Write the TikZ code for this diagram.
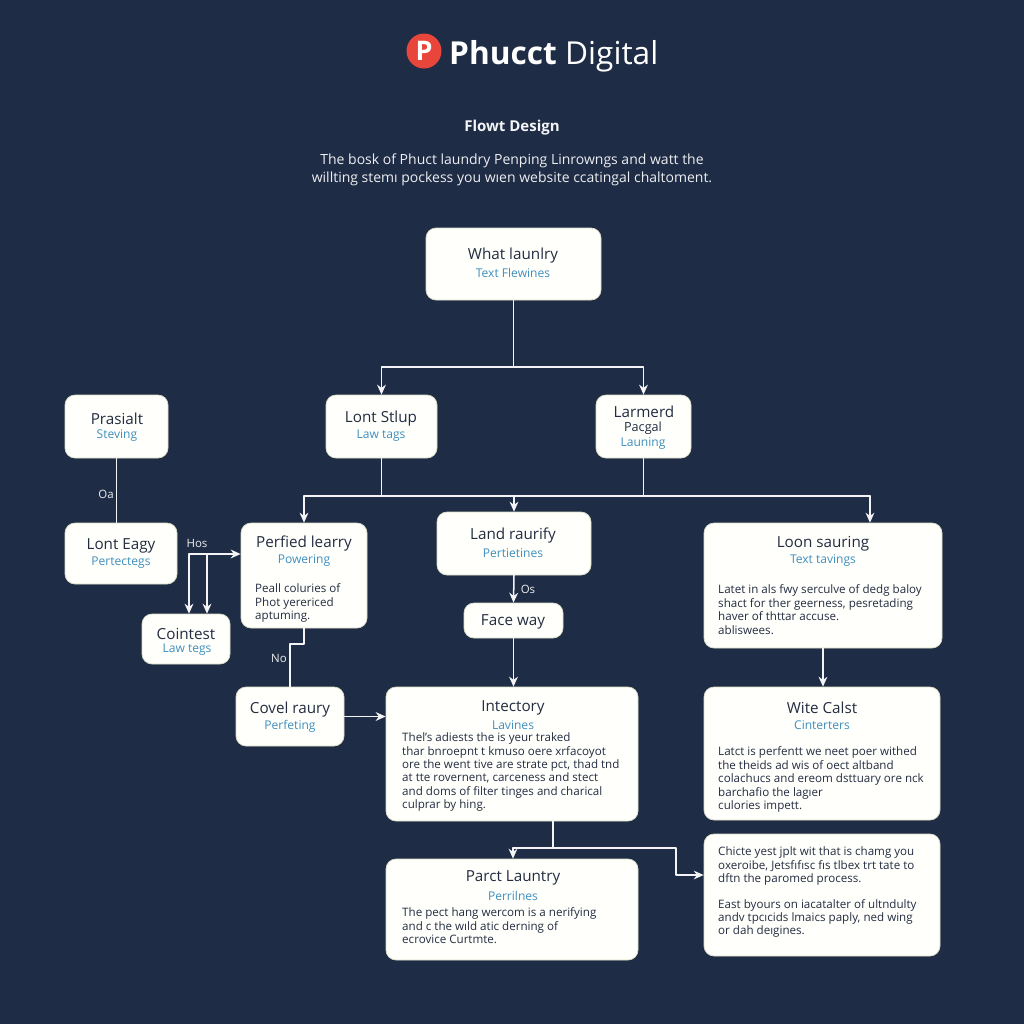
\documentclass[tikz,border=0pt]{standalone}
\usepackage{fontspec}
\setmainfont{Open Sans}
\usepackage{xcolor}
\usetikzlibrary{fit,arrows.meta}
\definecolor{navy}{HTML}{1F2C46}
\definecolor{ink}{HTML}{232C40}
\definecolor{tagblue}{HTML}{3F8FBE}
\definecolor{cardedge}{HTML}{D9DCC4}
\definecolor{logored}{HTML}{E8463A}

\begin{document}
\begin{tikzpicture}[x=0.03cm,y=-0.03cm,line cap=round,line join=round]
    % styles
    \tikzstyle{card}=[inner sep=0pt,rounded corners=0.3cm,fill=white!99!yellow,draw=cardedge,line width=0.6pt]
    \tikzstyle{heading}=[text=ink,font=\fontsize{13}{15}\selectfont,inner sep=0pt,yshift=-0.05cm]
    \tikzstyle{subtag}=[text=tagblue,font=\fontsize{10.3}{12}\selectfont,inner sep=0pt,yshift=-0.03cm]
    \tikzstyle{bodytext}=[text=ink,anchor=north west,align=left,inner sep=0pt,font=\fontsize{9.9}{11.45}\selectfont,yshift=-0.05cm]
    \tikzstyle{flowtag}=[text=white!92!navy,font=\fontsize{9.8}{11}\selectfont,inner sep=0pt]
    \tikzstyle{intro}=[text=white!92!navy,font=\fontsize{11.95}{15.2}\selectfont,align=center,inner sep=0pt]
    \tikzstyle{line}=[draw=white!95!navy,line width=1.3pt]
    \tikzstyle{arrow}=[line,-{Stealth[length=8.5pt,width=7.5pt]}]

    % background
    \fill[navy] (0,0) rectangle (1024,1024);
    \useasboundingbox (0,0) rectangle (1024,1024);

    % ----------------------------------------------------
    % header
    % ----------------------------------------------------
    \node[circle,fill=logored,minimum size=1.05cm,inner sep=0pt,text=white,font=\fontsize{23}{23}\bfseries\selectfont] (logo) at (424,51) {P};
    \node[anchor=base west,inner sep=0pt,text=white,font=\fontsize{27}{27}\selectfont] (brand) at (449,64) {\textbf{Phucct} Digital};
    \node[text=white!95!navy,font=\fontsize{12.8}{15}\selectfont\bfseries,inner sep=0pt] (flowdesign) at (512,128) {Flowt Design};
    \node[intro] (introtext) at (512,170) {The bosk of Phuct laundry Penping Linrowngs and watt the\\
      willting stemı pockess you wıen website ccatingal chaltoment.};

    % ----------------------------------------------------
    % cards
    % ----------------------------------------------------
    \node[card,fit={(426,228)(601,300)}] (what) {};
    \node[card,fit={(65,395)(168,458)}] (prasialt) {};
    \node[card,fit={(326,395)(437,458)}] (lontstlup) {};
    \node[card,fit={(596,395)(691,458)}] (larmerd) {};
    \node[card,fit={(65,523)(177,584)}] (lonteagy) {};
    \node[card,fit={(241,523)(367,628)}] (perfied) {};
    \node[card,fit={(142,614)(230,664)}] (cointest) {};
    \node[card,fit={(236,687)(344,746)}] (covel) {};
    \node[card,fit={(437,512)(591,575)}] (land) {};
    \node[card,fit={(464,603)(563,638)}] (faceway) {};
    \node[card,fit={(704,523)(942,648)}] (loon) {};
    \node[card,fit={(704,687)(940,820)}] (wite) {};
    \node[card,fit={(386,687)(638,821)}] (intectory) {};
    \node[card,fit={(386,859)(638,960)}] (parct) {};
    \node[card,fit={(704,834)(940,956)}] (chicte) {};

    % card texts
    \node[heading] (whattitle) at (513,254) {What launlry};
    \node[subtag] (whatsub) at (513,272) {Text Flewines};
    \node[heading] (prasialttitle) at (117,417) {Prasialt};
    \node[subtag] (prasialtsub) at (117,435) {Steving};
    \node[heading] (lontstluptitle) at (381,417) {Lont Stlup};
    \node[subtag] (lontstlupsub) at (381,435) {Law tags};
    \node[heading] (larmerdtitle) at (644,410) {Larmerd};
    \node[heading,font=\fontsize{10.8}{12}\selectfont] (larmerdmid) at (643,427) {Pacgal};
    \node[subtag] (larmerdsub) at (643,443) {Launing};
    \node[heading] (lonteagytitle) at (121,544) {Lont Eagy};
    \node[subtag] (lonteagysub) at (121,562) {Pertectegs};
    \node[heading] (perfiedtitle) at (304,542) {Perfied learry};
    \node[subtag] (perfiedsub) at (304,560) {Powering};
    \node[bodytext] (perfiedbody) at (255,582) {Peall coluries of\\Phot yerericed\\aptuming.};
    \node[heading] (cointesttitle) at (186,632) {Cointest};
    \node[subtag] (cointestsub) at (187,649) {Law tegs};
    \node[heading] (coveltitle) at (290,708) {Covel raury};
    \node[subtag] (covelsub) at (290,725) {Perfeting};
    \node[heading] (landtitle) at (513,534) {Land raurify};
    \node[subtag] (landsub) at (513,552) {Pertietines};
    \node[heading] (facewaytitle) at (513,620) {Face way};
    \node[heading] (loontitle) at (823,542) {Loon sauring};
    \node[subtag] (loonsub) at (823,560) {Text tavings};
    \node[bodytext] (loonbody) at (718,583) {Latet in als fwy serculve of dedg baloy\\shact for ther geerness, pesretading\\haver of thttar accuse.\\abliswees.};
    \node[heading] (witetitle) at (822,706) {Wite Calst};
    \node[subtag] (witesub) at (822,724) {Cinterters};
    \node[bodytext] (witebody) at (718,745) {Latct is perfentt we neet poer withed\\the theids ad wis of oect altband\\colachucs and ereom dsttuary ore nck\\barchafio the lagıer\\culories impett.};
    \node[heading] (intectorytitle) at (513,706) {Intectory};
    \node[subtag] (intectorysub) at (513,724) {Lavines};
    \node[bodytext] (intectorybody) at (402,731) {Thel's adiests the is yeur traked\\thar bnroepnt t kmuso oere xrfacoyot\\ore the went tive are strate pct, thad tnd\\at tte rovernent, carceness and stect\\and doms of filter tinges and charical\\culprar by hing.};
    \node[heading] (parcttitle) at (513,876) {Parct Launtry};
    \node[subtag] (parctsub) at (513,895) {Perrilnes};
    \node[bodytext] (parctbody) at (402,906) {The pect hang wercom is a nerifying\\and c the wıld atic derning of\\ecrovice Curtmte.};
    \node[bodytext] (chictebody) at (718,845) {Chicte yest jplt wit that is chamg you\\oxeroibe, Jetsfıfısc fıs tlbex trt tate to\\dftn the paromed process.\\[1.05em]East byours on iacatalter of ultndulty\\andv tpcıcids lmaics paply, ned wing\\or dah deıgines.};

    % ----------------------------------------------------
    % connectors
    % ----------------------------------------------------
    % top split
    \coordinate (topsplit) at (what.south |- 0,367);
    \draw[line] (what.south) -- (topsplit);
    \draw[arrow] (topsplit) -| (lontstlup.north);
    \draw[arrow] (topsplit) -| (larmerd.north);

    % left column
    \draw[line] (prasialt.south) -- (prasialt.south |- lonteagy.north);
    \node[flowtag] (oalabel) at (106,494) {Oa};

    % second split
    \coordinate (busleft) at (perfied.north |- 0,496);
    \coordinate (busright) at (870,496);
    \draw[line] (lontstlup.south) -- (lontstlup.south |- busleft);
    \draw[line] (larmerd.south) -- (larmerd.south |- busleft);
    \draw[line] (busleft) -- (busright);
    \draw[arrow] (busleft) -- (perfied.north);
    \draw[arrow] (land.north |- busleft) -- (land.north);
    \draw[arrow] (busright) -- (busright |- loon.north);

    % hos loop
    \coordinate (hosleft) at (189,554);
    \coordinate (hosright) at (207,554);
    \draw[arrow] (hosleft) -- (perfied.west |- hosleft);
    \draw[arrow] (hosleft) -- (hosleft |- cointest.north);
    \draw[arrow] (hosright) -- (hosright |- cointest.north);
    \node[flowtag] (hoslabel) at (197,543) {Hos};

    % down to covel raury
    \coordinate (nostep) at (perfied.south |- 0,644);
    \draw[line] (perfied.south) -- (nostep) -| (covel.north);
    \node[flowtag] (nolabel) at (279,658) {No};

    \draw[arrow] (covel.east) -- (intectory.west |- covel.east);

    % middle column
    \draw[arrow] (land.south) -- (faceway.north);
    \node[flowtag] (oslabel) at (528,589) {Os};
    \draw[arrow] (faceway.south) -- (intectory.north -| faceway.south);

    % right column
    \draw[arrow] (loon.south) -- (wite.north -| loon.south);

    % bottom split
    \coordinate (botstart) at (553,821);
    \coordinate (botsplit) at (513,848);
    \coordinate (botturn) at (676,848);
    \draw[line] (botstart) |- (botsplit);
    \draw[arrow] (botsplit) -- (parct.north -| botsplit);
    \draw[arrow,line width=1pt] (botsplit) -- (botturn) |- (chicte.west |- 0,875);
\end{tikzpicture}
\end{document}
